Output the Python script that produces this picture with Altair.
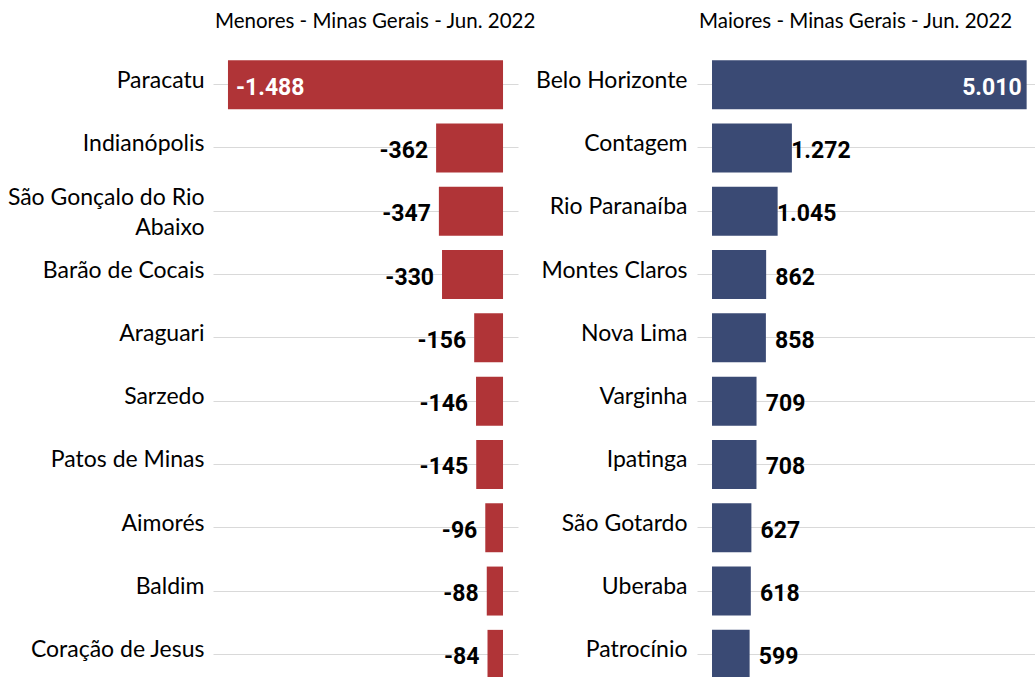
import altair as alt
import pandas as pd

# ---- data ----
menores_cidades = [
    "Paracatu", "Indianópolis", "São Gonçalo do Rio Abaixo", "Barão de Cocais",
    "Araguari", "Sarzedo", "Patos de Minas", "Aimorés", "Baldim", "Coração de Jesus",
]
menores_valores = [-1488, -362, -347, -330, -156, -146, -145, -96, -88, -84]

maiores_cidades = [
    "Belo Horizonte", "Contagem", "Rio Paranaíba", "Montes Claros", "Nova Lima",
    "Varginha", "Ipatinga", "São Gotardo", "Uberaba", "Patrocínio",
]
maiores_valores = [5010, 1272, 1045, 862, 858, 709, 708, 627, 618, 599]

titulo_menores = "Menores - Minas Gerais - Jun. 2022"
titulo_maiores = "Maiores - Minas Gerais - Jun. 2022"

df_menores = pd.DataFrame({"cidade": menores_cidades, "valor": menores_valores})
df_maiores = pd.DataFrame({"cidade": maiores_cidades, "valor": maiores_valores})

LABEL_FONT = "Lato, sans-serif"
NUM_FONT = "Roboto, sans-serif"

RED = "#B03437"
BLUE = "#3A4A74"

label_expr = ("datum.label == 'São Gonçalo do Rio Abaixo' ? "
              "['São Gonçalo do Rio', 'Abaixo'] : datum.label")

fmt = "replace(replace(format(datum.valor, ','), ',', '.'), '\u2212', '-')"


def panel(df, color, domain, width, title, extent, label_pad, left_side):
    y = alt.Y(
        "cidade:N", sort=None, title=None,
        scale=alt.Scale(range=[0, 633], paddingInner=0.2263, paddingOuter=0.11315),
        axis=alt.Axis(
            domain=False, ticks=False, grid=True, gridColor="#d9d9d9", gridWidth=1,
            labelFont=LABEL_FONT, labelFontSize=23, labelColor="#000000",
            labelPadding=label_pad, labelLimit=400, minExtent=extent, maxExtent=extent,
            labelLineHeight=30, labelExpr=label_expr,
            labelOffset={
                "condition": {"test": "datum.value == 'São Gonçalo do Rio Abaixo'",
                              "value": -13},
                "value": -4,
            },
            labelBaseline="middle",
        ),
    )
    x = alt.X("valor:Q", title=None, axis=None,
              scale=alt.Scale(domain=domain, nice=False, zero=False))

    base = alt.Chart(df).transform_calculate(
        rotulo=fmt, absval="abs(datum.valor)"
    ).transform_joinaggregate(maxabs="max(absval)")

    bars = base.mark_bar(color=color).encode(
        y=y, x=x, x2=alt.datum(0)
    )

    common = dict(baseline="middle", dy=3, font=NUM_FONT, fontSize=23, fontWeight="bold")
    if left_side:
        outside = base.transform_filter("datum.absval < datum.maxabs").mark_text(
            align="right", dx=-8, color="#000000", **common,
        ).encode(y=y, x=x, text="rotulo:N")
        inside = base.transform_filter("datum.absval == datum.maxabs").mark_text(
            align="left", dx=8, color="#ffffff", **common,
        ).encode(y=y, x=x, text="rotulo:N")
    else:
        outside = base.transform_filter("datum.absval < datum.maxabs").mark_text(
            align="center", dx=29, color="#000000", **common,
        ).encode(y=y, x=x, text="rotulo:N")
        inside = base.transform_filter("datum.absval == datum.maxabs").mark_text(
            align="right", dx=-5, color="#ffffff", **common,
        ).encode(y=y, x=x, text="rotulo:N")

    return alt.layer(bars, outside, inside).properties(
        width=width, height=626,
        title=alt.TitleParams(
            title, anchor="start", frame="group", font=LABEL_FONT, fontSize=20.5,
            fontWeight="normal", color="#000000", baseline="alphabetic", offset=5, dx=2,
        ),
    )


left = panel(df_menores, RED, [-1569, 81], 305, titulo_menores, 213, 9, True)
right = panel(df_maiores, BLUE, [-239, 5143], 338, titulo_maiores, 169, 10, False)

chart = alt.hconcat(left, right, spacing=179, bounds="flush").properties(
    padding={"top": 11, "left": 0, "right": 0, "bottom": 0},
    background="#ffffff",
).configure_view(stroke="transparent", strokeWidth=0)

chart.save("out.html", embed_options={"renderer": "svg", "actions": False})
